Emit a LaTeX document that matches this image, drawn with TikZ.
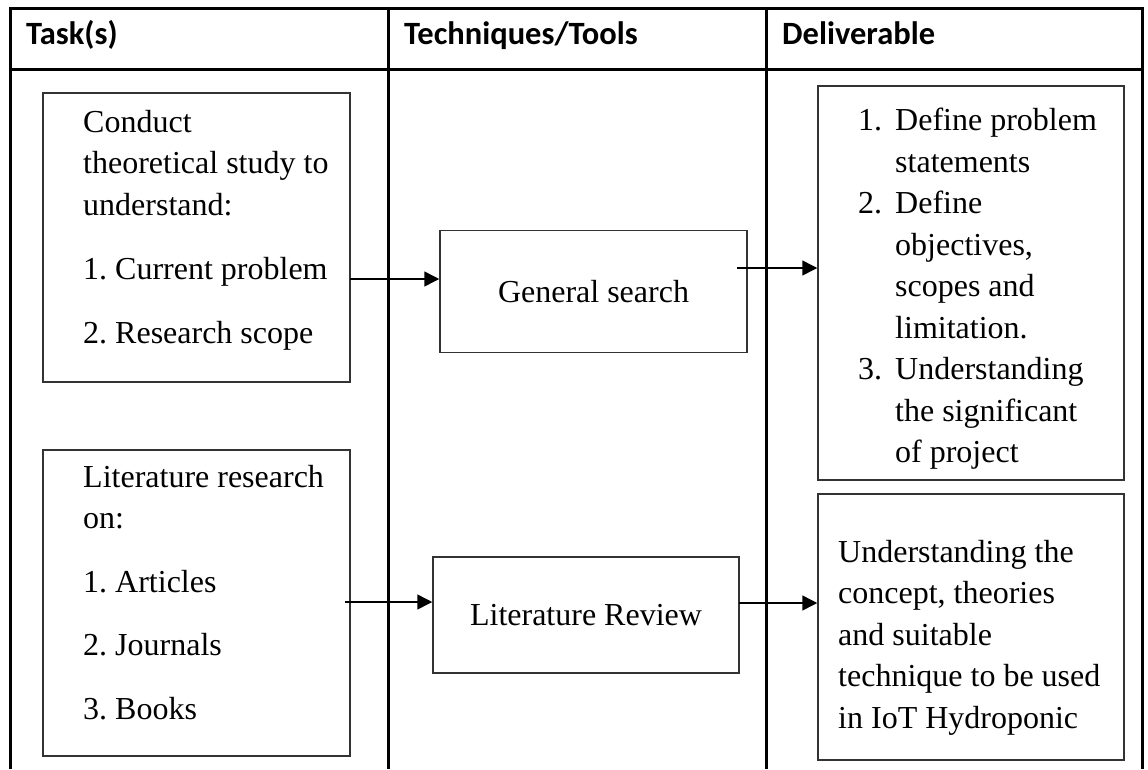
\documentclass[tikz,border=0pt]{standalone}
\usepackage{fontspec}
\setmainfont{Liberation Serif}
\newfontfamily\headfont{Carlito}
\usetikzlibrary{arrows.meta, positioning, fit}
\frenchspacing

% numbered lines in the deliverable box
\newcommand{\numitem}[1]{\makebox[37pt][l]{#1}}
\newcommand{\contline}{\hspace*{37pt}}

\begin{document}
\begin{tikzpicture}[
    x=1pt, y=-1pt,
    font=\fontsize{32pt}{41.5pt}\selectfont,
    grid/.style={
        line width=3pt
    },
    panel/.style={
        draw=black!80,
        line width=1.5pt,
        inner sep=0pt
    },
    txt/.style={
        anchor=north west,
        align=left,
        inner sep=0pt
    },
    head/.style={
        anchor=base west,
        inner sep=0pt,
        font=\headfont\bfseries\fontsize{32.5pt}{38pt}\selectfont
    },
    arrow/.style={
        -{Triangle[length=15pt, width=15pt]},
        line width=1.5pt
    }
]

\useasboundingbox (0,0) rectangle (1148,769);

% table
\draw[grid] (10,769) |- (1142,8) -- (1142,769);
\draw[grid] (10,69) -- (1142,69);
\draw[grid] (388,8) -- (388,769);
\draw[grid] (766,8) -- (766,769);

\node[head] (htask) at (26,44) {Task(s)};
\node[head] (htool) at (404,44) {Techniques/Tools};
\node[head] (hdeliv) at (782,44) {Deliverable};

% tasks
\node[txt] (t1) at (83,110)
{Conduct\\theoretical study to\\understand:\\[23pt]1. Current problem\\[22pt]2. Research scope};
\node[panel, fit={(43,93) (350,382)}] (task1) {};

\node[txt] (t2) at (83,465)
{Literature research\\on:\\[22pt]1. Articles\\[22pt]2. Journals\\[22pt]3. Books};
\node[panel, fit={(43,450) (350,756)}] (task2) {};

% techniques
\node[panel, minimum width=307pt, minimum height=122pt] (gsearch) at (593.5,291.7)
{General search};

\node[panel, minimum width=306pt, minimum height=116pt] (litrev) at (586,615)
{Literature Review};

% deliverables
\node[txt] (d1) at (858,108)
{\numitem{1.}Define problem\\\contline statements\\\numitem{2.}Define\\\contline objectives,\\\contline scopes and\\\contline limitation.\\\numitem{3.}Understanding\\\contline the significant\\\contline of project};
\node[panel, fit={(818,86) (1124,480)}] (deliv1) {};

\node[txt] (d2) at (838,540)
{Understanding the\\concept, theories\\and suitable\\technique to be used\\in IoT Hydroponic};
\node[panel, fit={(818,494) (1124,760)}] (deliv2) {};

% arrows
\coordinate (a1) at (350,279);
\coordinate (a2) at (737,268);
\coordinate (a3) at (345,602);
\coordinate (a4) at (739,603);

\draw[arrow] (a1) -- (a1 -| gsearch.west);
\draw[arrow] (a2) -- (a2 -| deliv1.west);
\draw[arrow] (a3) -- (a3 -| litrev.west);
\draw[arrow] (a4) -- (a4 -| deliv2.west);

\end{tikzpicture}
\end{document}
